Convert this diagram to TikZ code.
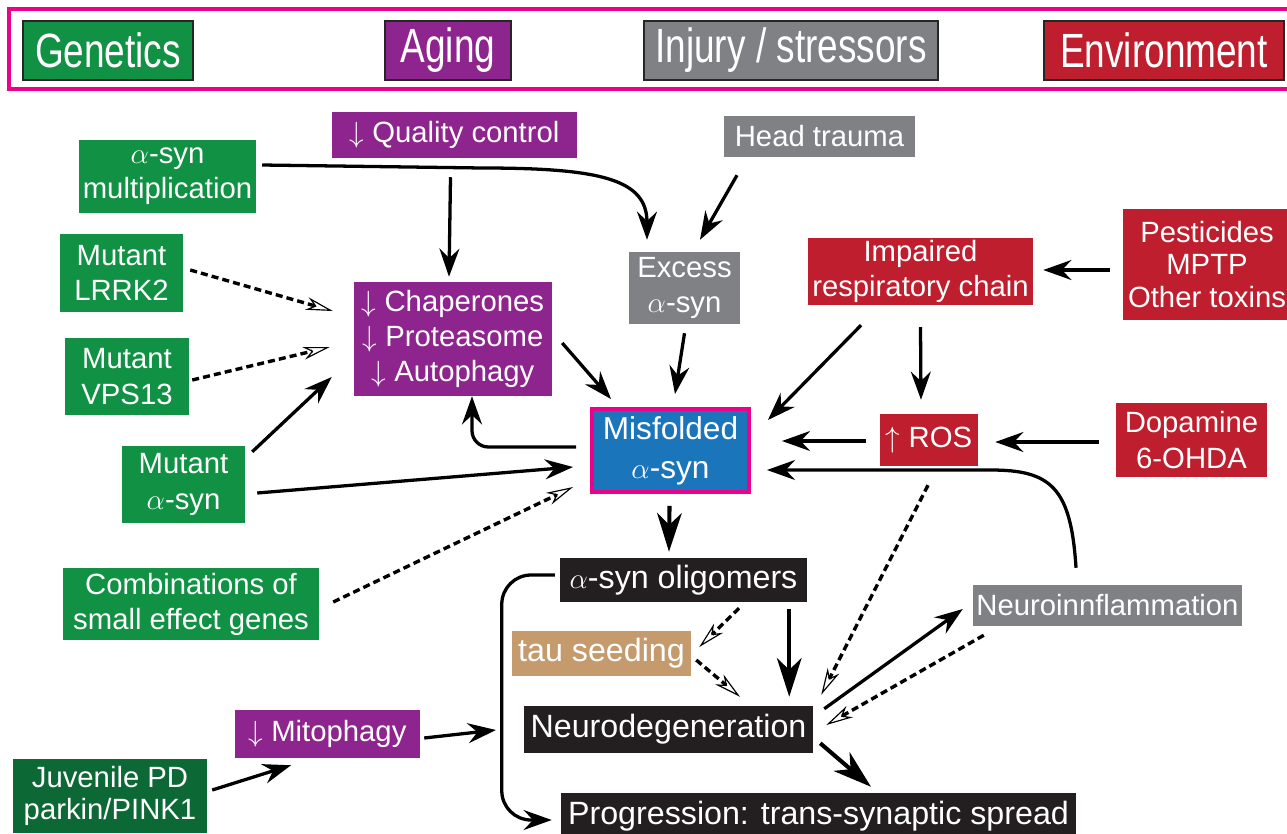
\documentclass[tikz,border=0pt]{standalone}
\usepackage{fontspec}
\setmainfont{Liberation Sans}
\newfontfamily\legendfont[FakeStretch=0.77]{Liberation Sans}
\usetikzlibrary{arrows.meta}

\definecolor{gengreen}{RGB}{16,145,67}
\definecolor{juvgreen}{RGB}{12,104,52}
\definecolor{agepurple}{RGB}{142,37,142}
\definecolor{injgray}{RGB}{128,129,132}
\definecolor{envred}{RGB}{190,30,45}
\definecolor{synblue}{RGB}{27,117,187}
\definecolor{framemag}{RGB}{236,0,140}
\definecolor{tautan}{RGB}{197,155,109}
\definecolor{cellblack}{RGB}{35,31,32}

\newlength\pix
\setlength\pix{0.03cm}

\tikzset{
  factor/.style={fill=#1, text=white, inner sep=0pt, align=center,
    font=\fontsize{25}{30}\selectfont},
  stage/.style={factor=#1, font=\fontsize{27.5}{32}\selectfont},
  legendbox/.style={fill=#1, draw=black!85, line width=2.5pt, text=white,
    inner sep=0pt, minimum height=59\pix, font=\legendfont\fontsize{41}{48}\selectfont},
  link/.style={line width=2.8pt, -{Stealth[length=24pt,width=17pt,inset=8pt]}},
  biglink/.style={line width=3.5pt, -{Stealth[length=33pt,width=21pt,inset=10pt]}},
  weak/.style={line width=2.9pt, dash pattern=on 6pt off 3.5pt,
    -{Stealth[open,length=23pt,width=11pt,inset=7pt,line width=1pt]}},
}

\begin{document}
\begin{tikzpicture}[x=1\pix,y=-1\pix]
\useasboundingbox (0,0) rectangle (1287,833);
\clip (0,0) rectangle (1287,833);

% legend
\draw[framemag, line width=3.3pt] (9,9) rectangle (1300,89);
\foreach \n/\x/\w/\c/\t in {gen/108/170/gengreen/Genetics, age/448/126/agepurple/Aging,
    inj/791/294/injgray/{Injury / stressors}, env/1164/240/envred/Environment}
  \node[legendbox=\c, minimum width=\w\pix] (key-\n) at (\x,50.5) {\t};

% genetics
\node[factor=gengreen, minimum width=177\pix, minimum height=73\pix] (amult) at (167.5,176.5) {$\alpha$-syn\\multiplication};
\node[factor=gengreen, minimum width=123\pix, minimum height=78\pix] (lrrk) at (121.5,273) {Mutant\\LRRK2};
\node[factor=gengreen, minimum width=124\pix, minimum height=77\pix] (vps) at (127,376.5) {Mutant\\VPS13};
\node[factor=gengreen, minimum width=123\pix, minimum height=77\pix] (mutsyn) at (183.5,484.5) {Mutant\\$\alpha$-syn};
\node[factor=gengreen, minimum width=256\pix, minimum height=72\pix] (combo) at (191,604) {Combinations of\\small effect genes};
\node[factor=juvgreen, minimum width=194\pix, minimum height=74\pix, font=\fontsize{25}{28}\selectfont] (juv) at (110,796) {Juvenile PD\\parkin/PINK1};

% aging
\node[factor=agepurple, minimum width=245\pix, minimum height=46\pix] (qc) at (454.5,135) {$\downarrow$ Quality control};
\node[factor=agepurple, minimum width=198\pix, minimum height=114\pix] (chap) at (453,339)
  {$\downarrow$ Chaperones\\$\downarrow$ Proteasome\\$\downarrow$ Autophagy};
\node[factor=agepurple, minimum width=185\pix, minimum height=48\pix] (mito) at (327.5,734) {$\downarrow$ Mitophagy};

% injury / stressors
\node[factor=injgray, minimum width=191\pix, minimum height=41\pix] (head) at (819.5,136.5) {Head trauma};
\node[factor=injgray, minimum width=111\pix, minimum height=72\pix] (excess) at (684.5,288) {Excess\\$\alpha$-syn};
\node[factor=injgray, minimum width=269\pix, minimum height=41\pix] (ninfl) at (1107.5,605.5) {Neuroinnflammation};

% environment
\node[factor=envred, minimum width=225\pix, minimum height=67\pix] (resp) at (920.5,271.5) {Impaired\\respiratory chain};
\node[factor=envred, minimum width=168\pix, minimum height=111\pix, font=\fontsize{25}{28}\selectfont] (pest) at (1207,264.5) {Pesticides\\MPTP\\Other toxins};
\node[factor=envred, minimum width=98\pix, minimum height=52\pix] (ros) at (929,440) {$\uparrow$ ROS};
\node[factor=envred, minimum width=151\pix, minimum height=74\pix] (dopa) at (1191.5,440) {Dopamine\\6-OHDA};

% cascade
\node[factor=synblue, draw=framemag, line width=3.3pt, minimum width=157\pix, minimum height=83\pix,
  font=\fontsize{27}{33}\selectfont] (misf) at (670.5,450.5) {Misfolded\\$\alpha$-syn};
\node[stage=cellblack, minimum width=247\pix, minimum height=44\pix] (olig) at (683.5,580) {$\alpha$-syn oligomers};
\node[stage=tautan, minimum width=179\pix, minimum height=45\pix] (tau) at (601.5,653.5) {tau seeding};
\node[stage=cellblack, minimum width=289\pix, minimum height=47\pix] (neuro) at (668.5,729.5) {Neurodegeneration};
\node[stage=cellblack, minimum width=515\pix, minimum height=47\pix] (prog) at (818.5,816.5) {Progression: trans-synaptic spread};

% into the chaperone box
\draw[weak] ([shift={(7,-3)}]lrrk.east) -- ([shift={(-21,-28)}]chap.west);
\draw[weak] ([shift={(3,3.5)}]vps.east) -- ([shift={(-24,8)}]chap.west);
\draw[link] ([shift={(7,6)}]mutsyn.north east) -- ([shift={(-22,38)}]chap.west);
\draw[link] ([shift={(-4,19)}]qc.south) -- ([shift={(-4,-5)}]chap.north);
\draw[link,rounded corners=14pt] ([shift={(-14,-3.5)}]misf.west) -| ([shift={(19,0)}]chap.south);

% excess alpha-syn
\draw[link] ([shift={(6,-11.5)}]amult.east) -- ++(220,3)
  .. controls +(120,0) and +(0,-60) .. ([shift={(-37.5,-12)}]excess.north);
\draw[link] ([shift={(-82.5,18)}]head.south) -- ([shift={(15.5,-12)}]excess.north);

% into misfolded alpha-syn
\draw[link] ([shift={(10,4)}]chap.east) -- ([shift={(21,-8)}]misf.north west);
\draw[link] ([shift={(0,9)}]excess.south) -- ([shift={(4.5,-13)}]misf.north);
\draw[link] ([shift={(12,8.5)}]mutsyn.east) -- ([shift={(-17,16.5)}]misf.west);
\draw[weak] ([shift={(14,-2)}]combo.east) -- ([shift={(-17,36.5)}]misf.west);
\draw[link] ([shift={(-59.5,20)}]resp.south) -- ([shift={(17,-30.5)}]misf.east);
\draw[link] ([shift={(-14,1)}]ros.west) -- ([shift={(31,-9.5)}]misf.east);
\draw[link] ([shift={(-31.5,-17)}]ninfl.north) .. controls +(-5,-80) and +(60,0)
  .. ([shift={(240,19.5)}]misf.east) -- ([shift={(16,19.5)}]misf.east);

% environment
\draw[link] ([shift={(-13,5.5)}]pest.west) -- ([shift={(10,-1.5)}]resp.east);
\draw[link] ([shift={(0,22)}]resp.south) -- ([shift={(-8,-14)}]ros.north);
\draw[link] ([shift={(-17,2)}]dopa.west) -- ([shift={(17,2)}]ros.east);

% downstream
\draw[biglink] ([shift={(-1,12)}]misf.south) -- ([shift={(-14.5,-6)}]olig.north);
\draw[weak] ([shift={(55.5,6)}]olig.south) -- ([shift={(8,-6.5)}]tau.east);
\draw[weak] ([shift={(5,6.5)}]tau.east) -- ([shift={(71.5,-9)}]neuro.north);
\draw[biglink] ([shift={(-18,7)}]olig.south east) -- ([shift={(-24,-9)}]neuro.north east);
\draw[weak] ([shift={(-1,19)}]ros.south) -- ([shift={(8,-11)}]neuro.north east);
\draw[link] ([shift={(11,3)}]neuro.north east) -- ([shift={(-10,3.5)}]ninfl.west);
\draw[weak] ([shift={(11,9)}]ninfl.south west) -- ([shift={(13,-4.5)}]neuro.east);
\draw[biglink] ([shift={(7,-10)}]neuro.south east) -- ([shift={(52.5,-6)}]prog.north);
\draw[link,rounded corners=25pt] ([shift={(-5,-5)}]olig.west) -- ++(-53,0) |- ([shift={(-9,3.5)}]prog.west);

% mitophagy
\coordinate (trunk) at (496,730);
\draw[link] ([shift={(4,4)}]mito.east) -- (trunk);
\draw[link] ([shift={(5,-6)}]juv.east) -- ([shift={(-36.5,7)}]mito.south);
\end{tikzpicture}
\end{document}
